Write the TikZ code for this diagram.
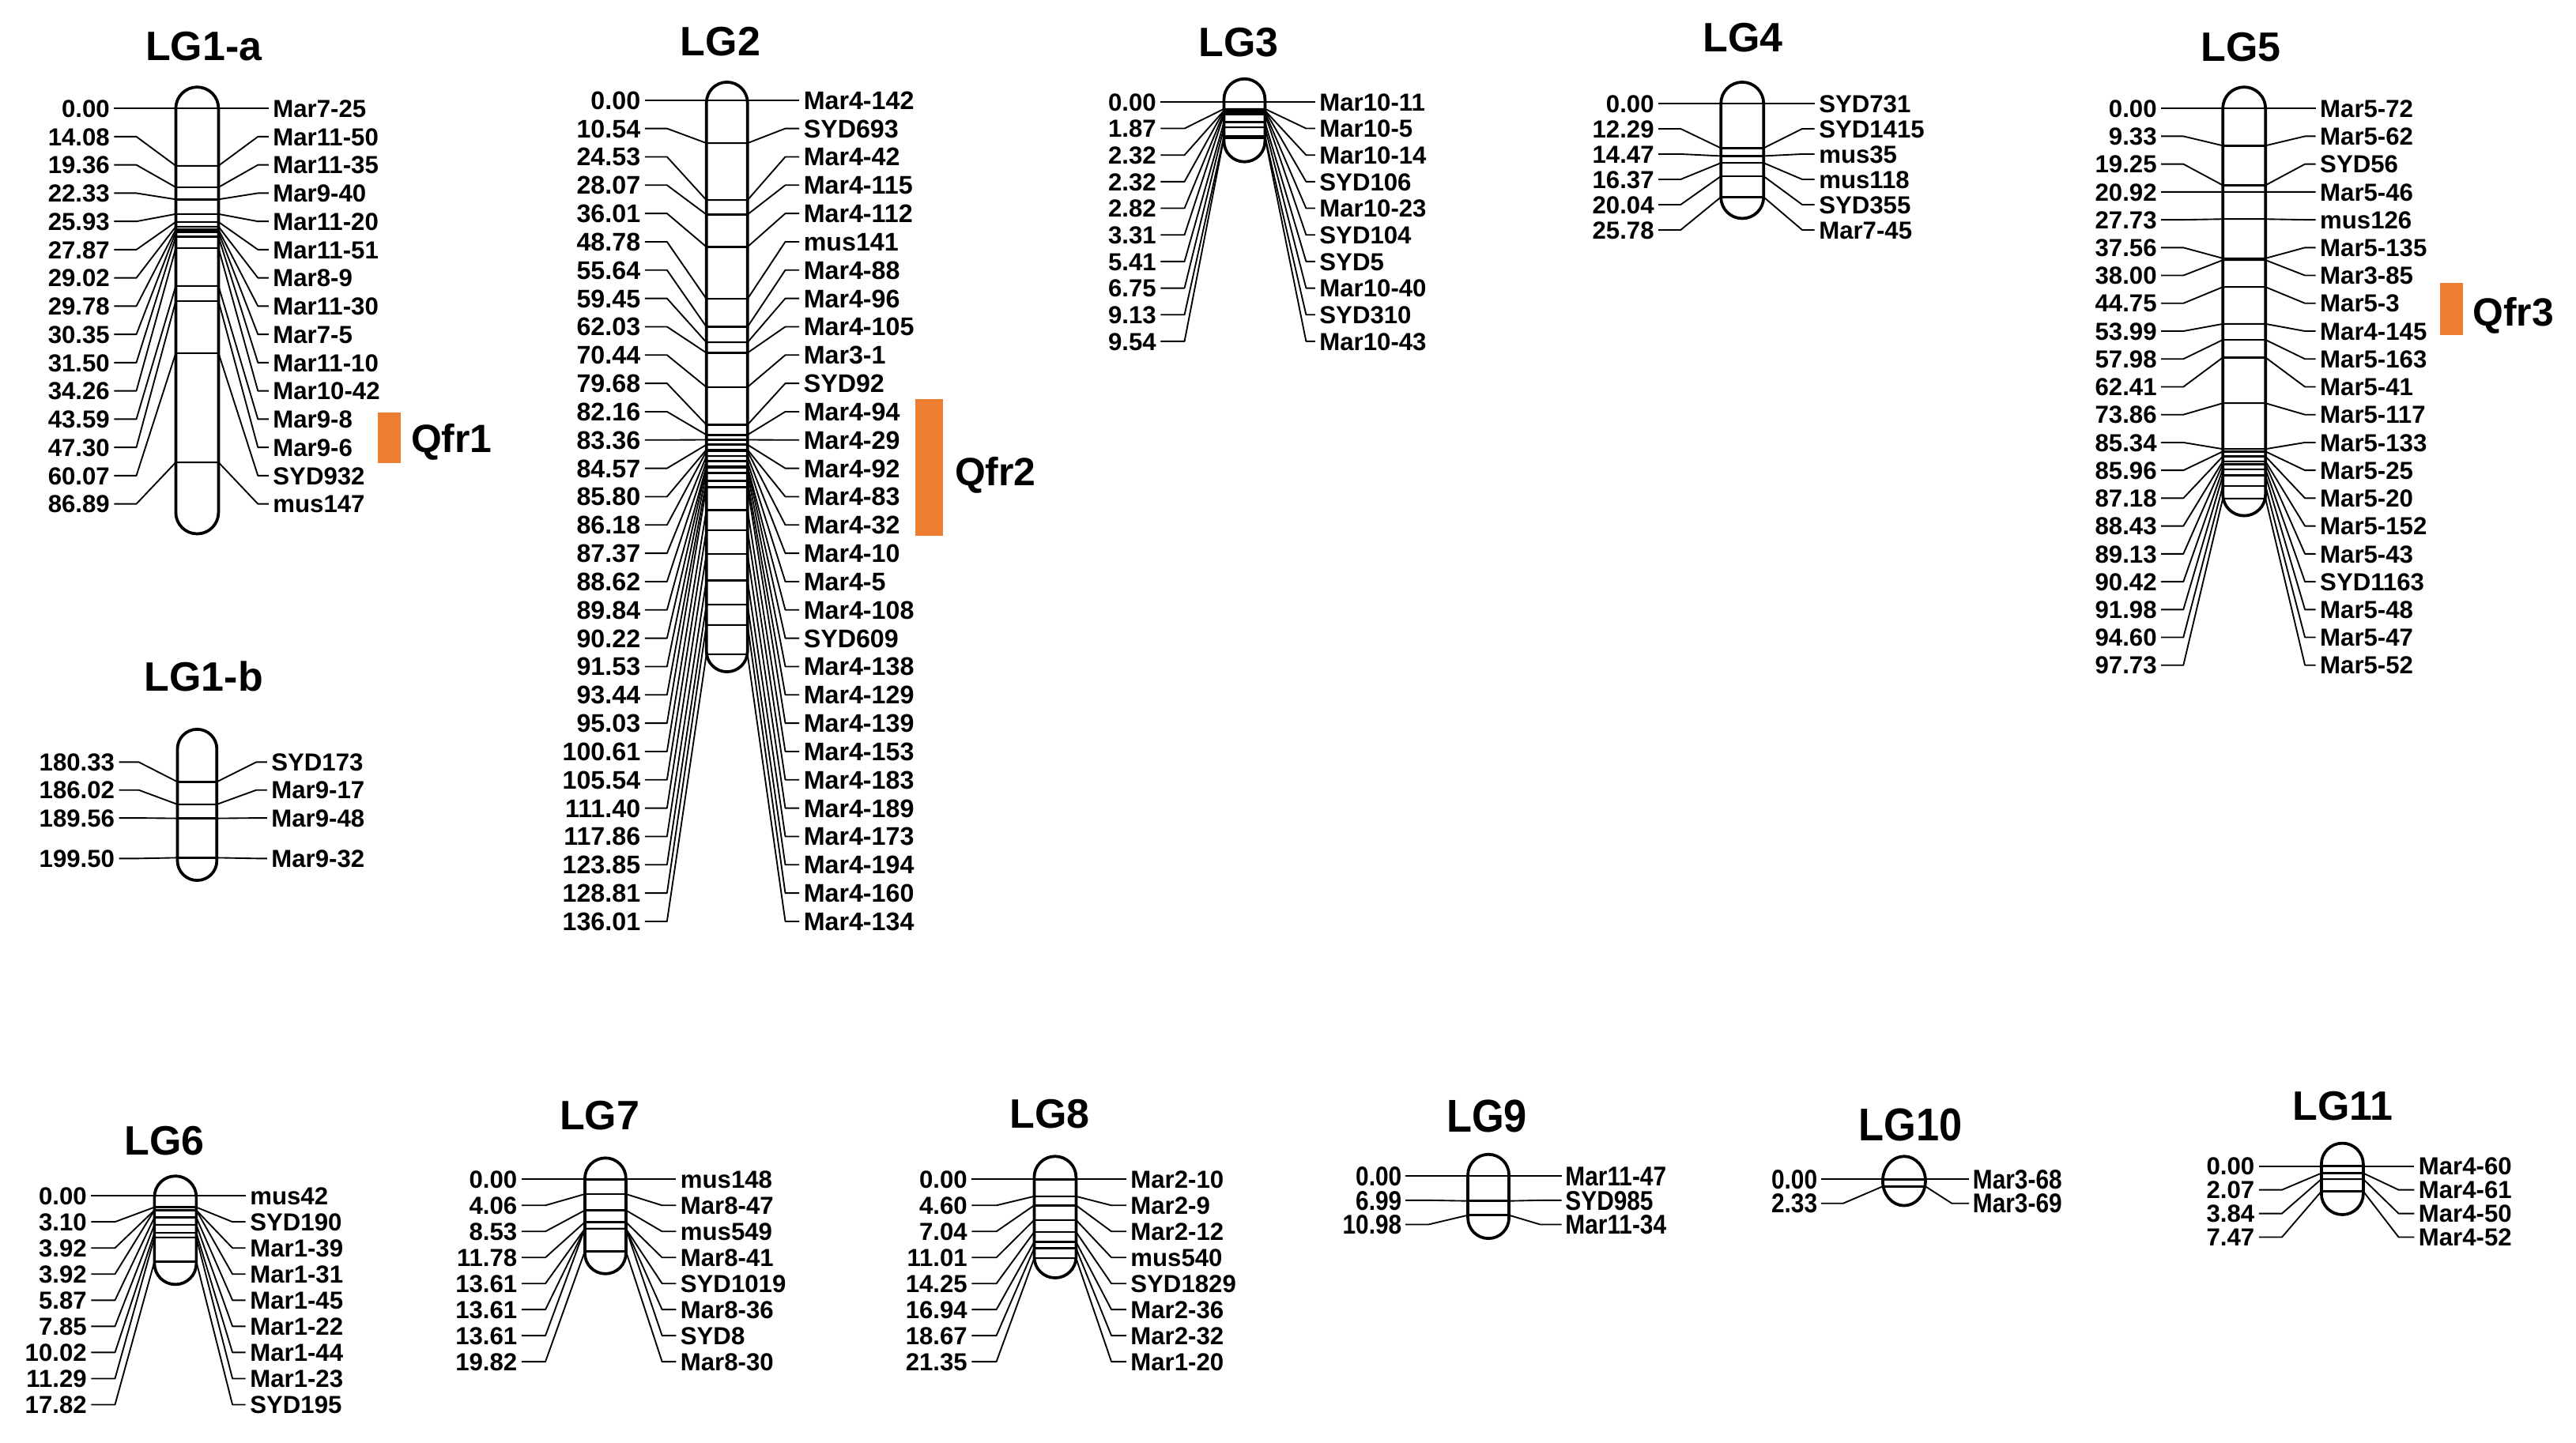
\documentclass[tikz,border=0pt]{standalone}
\usepackage{fontspec}
\setmainfont{Liberation Sans}
\definecolor{qorange}{RGB}{237,125,49}
\tikzset{
  lgtitle/.style={anchor=base, font=\bfseries\fontsize{25}{25}\selectfont, inner sep=0pt},
  lgtitlen/.style={lgtitle, font=\bfseries\fontsize{28}{28}\selectfont, xscale=0.9},
  numlbl/.style={anchor=base east, font=\bfseries\fontsize{\gfs}{\gfs}\selectfont, inner xsep=2.5pt, inner ysep=0pt, xscale=\gfx},
  mklbl/.style={anchor=base west, font=\bfseries\fontsize{\gfs}{\gfs}\selectfont, inner xsep=2.5pt, inner ysep=0pt, xscale=\gfx},
  conn/.style={line width=0.9pt, line join=round},
  mline/.style={line width=1.2pt},
  barline/.style={line width=1.8pt},
  qbox/.style={fill=qorange},
  qlbl/.style={anchor=base west, font=\bfseries\fontsize{24}{24}\selectfont, inner sep=0pt}
}
\newcommand{\setgeom}[7]{\def\gid{#1}\def\gxL{#2}\def\gxLk{#3}\def\gbL{#4}\def\gbR{#5}\def\gxRk{#6}\def\gxR{#7}}
\newcommand{\setrows}[7]{\def\grA{#1}\def\gdR{#2}\def\gmA{#3}\def\gk{#4}\def\gcz{#5}\def\gfs{#6}\def\gfx{#7}}
\newcommand{\drawmarkers}[1]{%
  \foreach \mnum/\mname/\mri [count=\ci] in {#1}{%
    \pgfmathsetmacro{\mry}{\grA+\mri*\gdR}%
    \pgfmathsetmacro{\mmy}{\gmA+\gk*(\mnum-\gcz)}%
    \pgfmathsetmacro{\mbase}{\mry+0.358*\gfs}%
    \node[numlbl] (\gid-n-\ci) at (\gxL+2.5,\mbase) {\mnum};
    \node[mklbl] (\gid-m-\ci) at (\gxR-2.5,\mbase) {\mname};
    \coordinate (\gid-lk-\ci) at (\gxLk,\mry);
    \coordinate (\gid-bl-\ci) at (\gbL,\mmy);
    \coordinate (\gid-br-\ci) at (\gbR,\mmy);
    \coordinate (\gid-rk-\ci) at (\gxRk,\mry);
    \draw[conn] (\gid-n-\ci.east |- \gid-lk-\ci) -- (\gid-lk-\ci) -- (\gid-bl-\ci) -- (\gid-br-\ci) -- (\gid-rk-\ci) -- (\gid-m-\ci.west |- \gid-rk-\ci);
    \draw[mline] (\gid-bl-\ci) -- (\gid-br-\ci);
  }%
}
\newcommand{\drawbar}[2]{%
  \pgfmathsetmacro{\grr}{(\gbR-\gbL)/2}%
  \draw[barline, rounded corners=\grr pt] (\gbL,#1) rectangle (\gbR,#2);%
}
\begin{document}
\begin{tikzpicture}[x=1pt,y=-1pt]
\useasboundingbox (0,0) rectangle (1568,878.5);

% ---------------- LG1-a
\node[lgtitle] (t1a) at (124,37) {LG1-a};
\setgeom{ga}{67}{83}{107}{133}{157}{166}
\setrows{66}{17.2}{66}{2.48}{0}{15}{1}
\drawmarkers{0.00/Mar7-25/0, 14.08/Mar11-50/1, 19.36/Mar11-35/2, 22.33/Mar9-40/3, 25.93/Mar11-20/4, 27.87/Mar11-51/5, 29.02/Mar8-9/6, 29.78/Mar11-30/7, 30.35/Mar7-5/8, 31.50/Mar11-10/9, 34.26/Mar10-42/10, 43.59/Mar9-8/11, 47.30/Mar9-6/12, 60.07/SYD932/13, 86.89/mus147/14}
\drawbar{53}{325}
\fill[qbox] (230,251) rectangle (244,282);
\node[qlbl] (q1) at (250,275.6) {Qfr1};

% ---------------- LG1-b
\node[lgtitle] (t1b) at (124,420.5) {LG1-b};
\setgeom{gb}{70}{84.5}{108}{132}{156}{165}
\setrows{464}{17}{476}{2.41}{180.33}{15}{1}
\drawmarkers{180.33/SYD173/0, 186.02/Mar9-17/1, 189.56/Mar9-48/2, 199.50/Mar9-32/3.45}
\drawbar{444}{536}

% ---------------- LG2
\node[lgtitle] (t2) at (438.5,34) {LG2};
\setgeom{gc}{390}{406}{430}{455}{478}{489}
\setrows{61}{17.24}{61}{2.48}{0}{15.5}{1}
\drawmarkers{0.00/Mar4-142/0, 10.54/SYD693/1, 24.53/Mar4-42/2, 28.07/Mar4-115/3, 36.01/Mar4-112/4, 48.78/mus141/5, 55.64/Mar4-88/6, 59.45/Mar4-96/7, 62.03/Mar4-105/8, 70.44/Mar3-1/9, 79.68/SYD92/10, 82.16/Mar4-94/11, 83.36/Mar4-29/12, 84.57/Mar4-92/13, 85.80/Mar4-83/14, 86.18/Mar4-32/15, 87.37/Mar4-10/16, 88.62/Mar4-5/17, 89.84/Mar4-108/18, 90.22/SYD609/19, 91.53/Mar4-138/20, 93.44/Mar4-129/21, 95.03/Mar4-139/22, 100.61/Mar4-153/23, 105.54/Mar4-183/24, 111.40/Mar4-189/25, 117.86/Mar4-173/26, 123.85/Mar4-194/27, 128.81/Mar4-160/28, 136.01/Mar4-134/29}
\drawbar{50}{409}
\fill[qbox] (557,243) rectangle (574,326);
\node[qlbl] (q2) at (581,295.6) {Qfr2};

% ---------------- LG3
\node[lgtitle] (t3) at (754,34.5) {LG3};
\setgeom{gd}{704}{721}{745}{770}{795}{803}
\setrows{62}{16.2}{62}{2.3}{0}{15}{1}
\drawmarkers{0.00/Mar10-11/0, 1.87/Mar10-5/1, 2.32/Mar10-14/2, 2.32/SYD106/3, 2.82/Mar10-23/4, 3.31/SYD104/5, 5.41/SYD5/6, 6.75/Mar10-40/7, 9.13/SYD310/8, 9.54/Mar10-43/9}
\drawbar{48}{98.5}

% ---------------- LG4
\node[lgtitle] (t4) at (1061,31.5) {LG4};
\setgeom{ge}{1007}{1023}{1047.5}{1073.5}{1097}{1107}
\setrows{63}{15.4}{63}{2.21}{0}{15}{1}
\drawmarkers{0.00/SYD731/0, 12.29/SYD1415/1, 14.47/mus35/2, 16.37/mus118/3, 20.04/SYD355/4, 25.78/Mar7-45/5}
\drawbar{50}{133}

% ---------------- LG5
\node[lgtitle] (t5) at (1364,37.5) {LG5};
\setgeom{gf}{1313}{1329}{1353}{1379}{1403}{1412}
\setrows{66}{16.95}{66}{2.43}{0}{15}{1}
\drawmarkers{0.00/Mar5-72/0, 9.33/Mar5-62/1, 19.25/SYD56/2, 20.92/Mar5-46/3, 27.73/mus126/4, 37.56/Mar5-135/5, 38.00/Mar3-85/6, 44.75/Mar5-3/7, 53.99/Mar4-145/8, 57.98/Mar5-163/9, 62.41/Mar5-41/10, 73.86/Mar5-117/11, 85.34/Mar5-133/12, 85.96/Mar5-25/13, 87.18/Mar5-20/14, 88.43/Mar5-152/15, 89.13/Mar5-43/16, 90.42/SYD1163/17, 91.98/Mar5-48/18, 94.60/Mar5-47/19, 97.73/Mar5-52/20}
\drawbar{53}{314}
\fill[qbox] (1485,172) rectangle (1499,204);
\node[qlbl] (q3) at (1505,198.6) {Qfr3};

% ---------------- LG6
\node[lgtitle] (t6) at (100,703) {LG6};
\setgeom{gg}{53}{70}{94}{119.5}{141.5}{152}
\setrows{728}{15.9}{728}{2.25}{0}{15}{1}
\drawmarkers{0.00/mus42/0, 3.10/SYD190/1, 3.92/Mar1-39/2, 3.92/Mar1-31/3, 5.87/Mar1-45/4, 7.85/Mar1-22/5, 10.02/Mar1-44/6, 11.29/Mar1-23/7, 17.82/SYD195/8}
\drawbar{716}{782}

% ---------------- LG7
\node[lgtitle] (t7) at (365,688) {LG7};
\setgeom{gh}{315}{332}{356}{381}{403}{414}
\setrows{718}{15.86}{718}{2.21}{0}{15}{1}
\drawmarkers{0.00/mus148/0, 4.06/Mar8-47/1, 8.53/mus549/2, 11.78/Mar8-41/3, 13.61/SYD1019/4, 13.61/Mar8-36/5, 13.61/SYD8/6, 19.82/Mar8-30/7}
\drawbar{705}{775.5}

% ---------------- LG8
\node[lgtitle] (t8) at (639,687) {LG8};
\setgeom{gi}{589}{606.5}{629.5}{655}{676.5}{688}
\setrows{718}{15.86}{718}{2.25}{0}{15}{1}
\drawmarkers{0.00/Mar2-10/0, 4.60/Mar2-9/1, 7.04/Mar2-12/2, 11.01/mus540/3, 14.25/SYD1829/4, 16.94/Mar2-36/5, 18.67/Mar2-32/6, 21.35/Mar1-20/7}
\drawbar{704}{778}

% ---------------- LG9
\node[lgtitlen] (t9) at (905,689) {LG9};
\setgeom{gj}{853}{869.5}{893.5}{918.5}{937.5}{953}
\setrows{716}{14.75}{716}{2.17}{0}{16.5}{0.87}
\drawmarkers{0.00/Mar11-47/0, 6.99/SYD985/1, 10.98/Mar11-34/2}
\drawbar{702.8}{754}

% ---------------- LG10
\node[lgtitlen] (t10) at (1163,694.5) {LG10};
\setgeom{gk}{1106}{1122}{1146}{1172}{1188}{1201}
\setrows{718}{14.6}{718}{1.85}{0}{16.5}{0.87}
\drawmarkers{0.00/Mar3-68/0, 2.33/Mar3-69/1}
\draw[barline] (1159,719) ellipse [x radius=13, y radius=15];

% ---------------- LG11
\node[lgtitle] (t11) at (1426,682) {LG11};
\setgeom{gl}{1372.5}{1389}{1413}{1438.5}{1460}{1472}
\setrows{710}{14.4}{710}{2.05}{0}{15}{1}
\drawmarkers{0.00/Mar4-60/0, 2.07/Mar4-61/1, 3.84/Mar4-50/2, 7.47/Mar4-52/3}
\drawbar{696}{739.5}

\end{tikzpicture}
\end{document}
